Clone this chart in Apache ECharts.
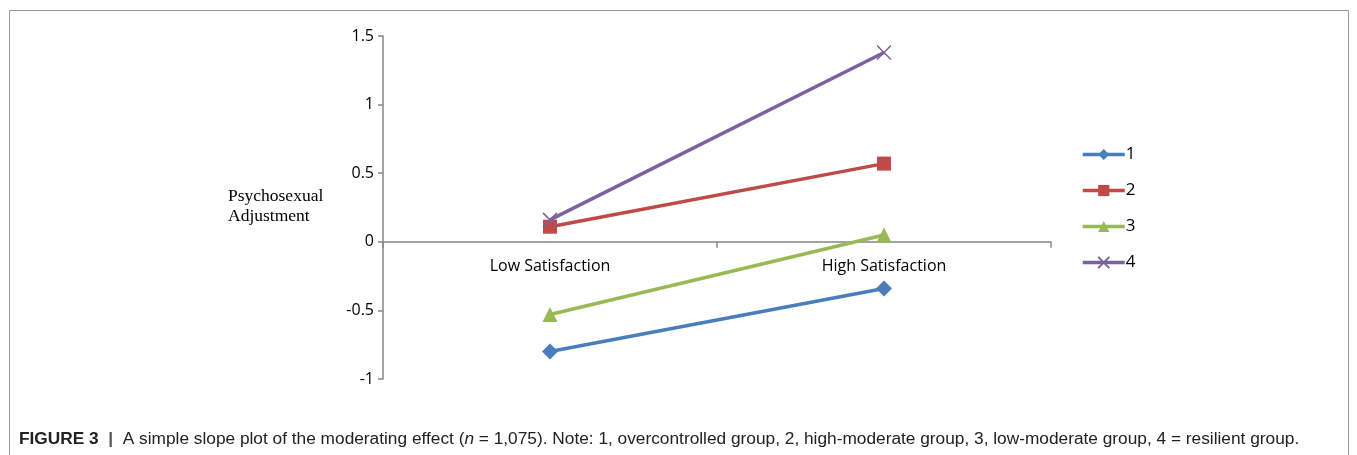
<!DOCTYPE html>
<html>
<head>
<meta charset="utf-8">
<script src="https://cdn.jsdelivr.net/npm/echarts@6/dist/echarts.min.js"></script>
<style>
  html, body { margin: 0; padding: 0; background: #fff; }
  #chart { width: 1357px; height: 455px; }
</style>
</head>
<body>
<div id="chart"></div>
<script>
const categories = ['Low Satisfaction', 'High Satisfaction'];
const groupNames = ['1', '2', '3', '4'];
const group1 = [-0.80, -0.34];
const group2 = [0.11, 0.57];
const group3 = [-0.53, 0.05];
const group4 = [0.16, 1.38];
const yTicks = [-1, -0.5, 0, 0.5, 1, 1.5];

const colors = ['#4a7ebb', '#be4b48', '#98b954', '#7d60a0'];
const symbols = ['diamond', 'rect', 'triangle', 'path://M0,0L10,10M10,0L0,10'];
const symbolSizes = [16, 14, 15, 14];
const values = [group1, group2, group3, group4];

const chart = echarts.init(document.getElementById('chart'));

const series = values.map((data, i) => ({
  name: groupNames[i],
  type: 'line',
  data: data,
  symbol: symbols[i],
  symbolSize: symbolSizes[i],
  showAllSymbol: true,
  lineStyle: { color: colors[i], width: 3.5 },
  itemStyle: i === 3
    ? { color: 'transparent', borderColor: colors[i], borderWidth: 1.5 }
    : { color: colors[i], borderWidth: 0 },
  emphasis: { disabled: true },
  animation: false
}));

chart.setOption({
  animation: false,
  textStyle: { fontFamily: 'Open Sans' },
  title: {
    text: '{b|FIGURE 3}{bar|  |  }A simple slope plot of the moderating effect ({i|n} = 1,075). Note: 1, overcontrolled group, 2, high-moderate group, 3, low-moderate group, 4 = resilient group.',
    left: 14,
    top: 426,
    textStyle: {
      fontFamily: 'Liberation Sans',
      fontSize: 17.3,
      fontWeight: 'normal',
      color: '#222',
      rich: {
        b: { fontFamily: 'Liberation Sans', fontSize: 17.3, fontWeight: 'bold', color: '#222' },
        bar: { fontFamily: 'Liberation Sans', fontSize: 17.3, fontWeight: 'bold', color: '#555' },
        i: { fontFamily: 'Liberation Sans', fontSize: 17.3, fontStyle: 'italic', color: '#222' }
      }
    }
  },
  graphic: [
    {
      type: 'rect',
      shape: { x: 9.5, y: 10.5, width: 1339, height: 460 },
      style: { fill: 'none', stroke: '#9a9a9a', lineWidth: 1 },
      silent: true
    },
    {
      type: 'text',
      left: 228,
      top: 186,
      style: {
        text: 'Psychosexual\nAdjustment',
        font: '17.5px "Liberation Serif"',
        fill: '#000',
        lineHeight: 20
      }
    }
  ],
  legend: {
    orient: 'vertical',
    left: 1076,
    top: 141,
    itemWidth: 42,
    itemHeight: 14,
    itemGap: 19,
    lineStyle: { width: 3.5 },
    textStyle: { fontSize: 17, color: '#000', padding: [0, 0, 0, -4] },
    data: groupNames
  },
  grid: {
    left: 383,
    right: 306,
    top: 36,
    bottom: 76,
    containLabel: false
  },
  xAxis: {
    type: 'category',
    data: categories,
    boundaryGap: true,
    axisLine: { onZero: true, lineStyle: { color: '#868686', width: 1.5 } },
    axisTick: { show: true, inside: false, length: 6, lineStyle: { color: '#868686', width: 1.5 } },
    // labels sit just under the zero line, as in the original
    axisLabel: { fontSize: 16, color: '#000', margin: -121 },
    splitLine: { show: false }
  },
  yAxis: {
    type: 'value',
    min: yTicks[0],
    max: yTicks[yTicks.length - 1],
    interval: 0.5,
    axisLine: { show: true, onZero: false, lineStyle: { color: '#868686', width: 1.5 } },
    axisTick: { show: true, length: 5, lineStyle: { color: '#868686', width: 1.5 } },
    axisLabel: { fontSize: 16, color: '#000', margin: 9 },
    splitLine: { show: false }
  },
  series: series
});
</script>
</body>
</html>
